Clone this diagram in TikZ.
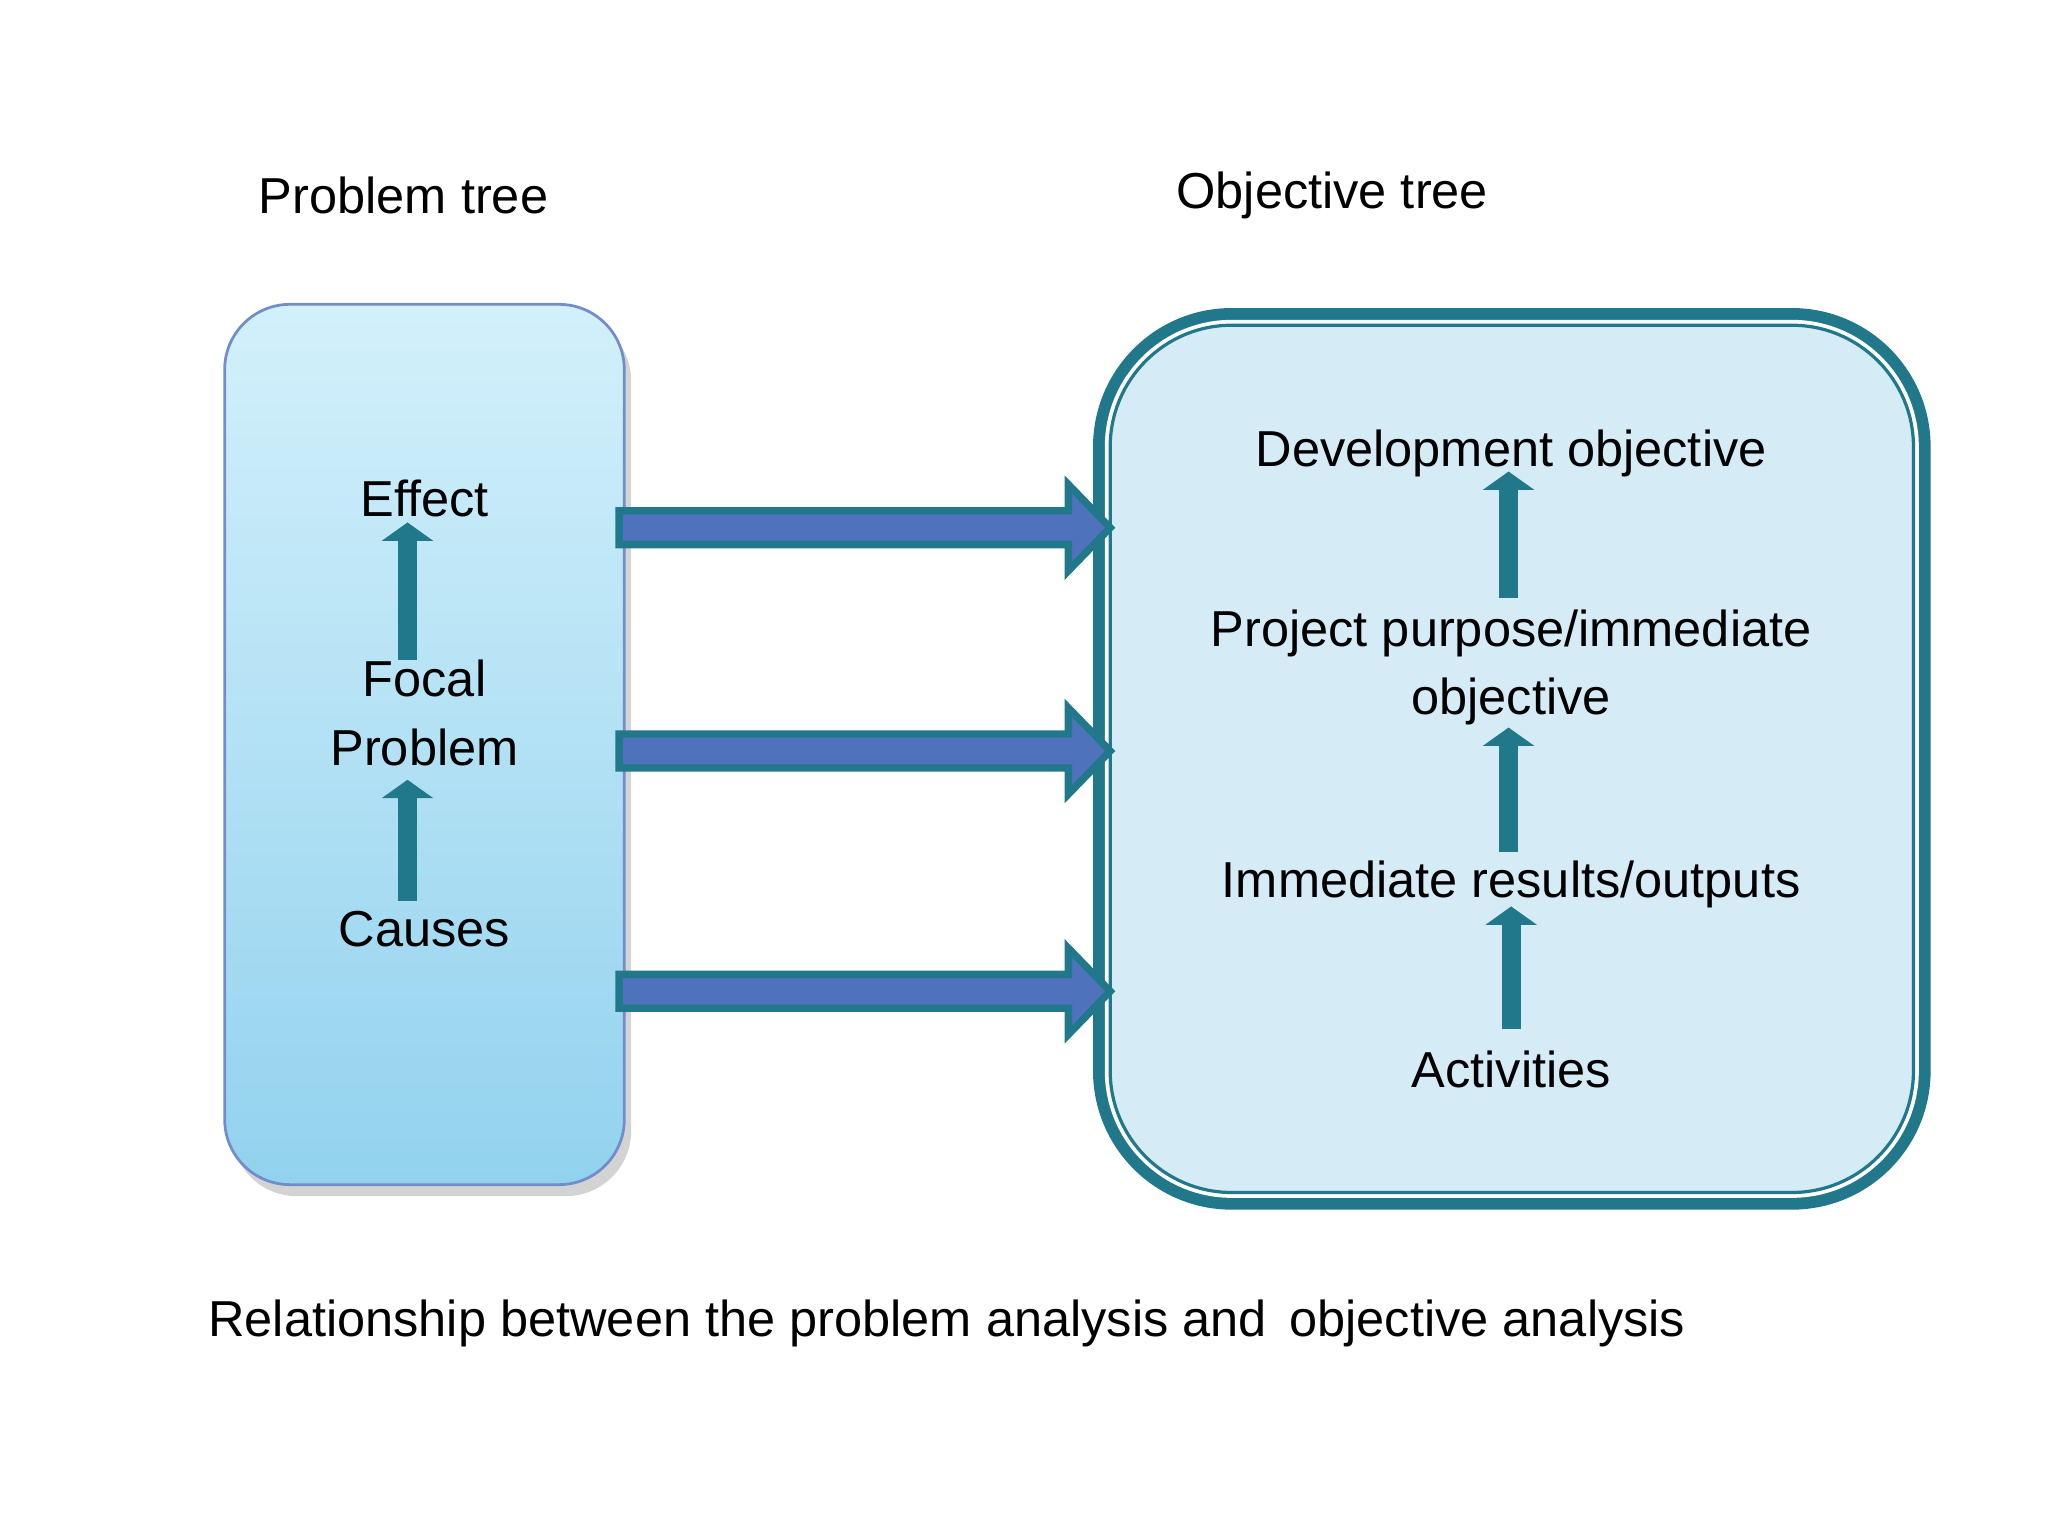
\documentclass[tikz,border=0pt]{standalone}
\usepackage{fontspec}
\setmainfont{Liberation Sans}
\usetikzlibrary{arrows.meta,shadows}
\definecolor{tealb}{HTML}{21788A}
\definecolor{arrowfill}{HTML}{4F72BD}
\definecolor{lbtop}{HTML}{D3F0FB}
\definecolor{lbbot}{HTML}{92D2EE}
\definecolor{rbfill}{HTML}{D5EBF5}
\begin{document}
\begin{tikzpicture}[x=0.01cm,y=-0.01cm,
  lbl/.style={font=\fontsize{11}{13}\selectfont,align=center,inner sep=0pt},
  up/.style={tealb,line width=4.2pt,-{Triangle[width=11pt,length=4pt]}},
  big/.style={draw=tealb,line width=1.6pt,fill=arrowfill}]
\useasboundingbox (0,0) rectangle (1568,1176);
\node[lbl] (pt) at (309,150) {Problem tree};
\node[lbl] (ot) at (1020,150) {Objective tree};
% left box
\path[drop shadow={shadow xshift=1.5pt,shadow yshift=-2.5pt,opacity=0.35},top color=lbtop,bottom color=lbbot,draw=arrowfill!80,line width=0.6pt,rounded corners=0.5cm]
  (172,233) rectangle (478,907);
\coordinate (L) at (478,570);
% right box
\draw[tealb,line width=3.5pt,fill=rbfill,rounded corners=1cm] (843,242) rectangle (1472,920);
\draw[white,line width=1.2pt,rounded corners=0.95cm] (848,247) rectangle (1467,915);
\draw[tealb,line width=0.7pt,rounded corners=0.93cm] (850,249) rectangle (1465,913);
% big arrows
\foreach \y in {404,575,759}{
  \draw[big] (474,\y-13) -- (818,\y-13) -- (818,\y-33) -- (850,\y) -- (818,\y+33) -- (818,\y+13) -- (474,\y+13) -- cycle;
}
% left texts
\node[lbl] (eff) at (325,382) {Effect};
\node[lbl] (foc) at (325,546) {Focal\\[2pt]Problem};
\node[lbl] (cau) at (325,711) {Causes};
\coordinate (a1s) at (312,505); \coordinate (a1e) at (312,400);
\coordinate (a2s) at (312,690); \coordinate (a2e) at (312,597);
\draw[up] (a1s) -- (a1e);
\draw[up] (a2s) -- (a2e);
% right texts
\node[lbl] (dev) at (1157,347) {Development objective};
\node[lbl] (pp) at (1157,511) {Project purpose/immediate\\[2pt]objective};
\node[lbl] (ir) at (1157,677) {Immediate results/outputs};
\node[lbl] (act) at (1157,819) {Activities};
\coordinate (b1s) at (1155,458); \coordinate (b1e) at (1155,361);
\coordinate (b2s) at (1155,652); \coordinate (b2e) at (1155,557);
\coordinate (b3s) at (1157,788); \coordinate (b3e) at (1157,694);
\draw[up] (b1s) -- (b1e);
\draw[up] (b2s) -- (b2e);
\draw[up] (b3s) -- (b3e);
\node[lbl] (cap) at (725,1013) {Relationship between the problem analysis and\, objective analysis};
\end{tikzpicture}
\end{document}
